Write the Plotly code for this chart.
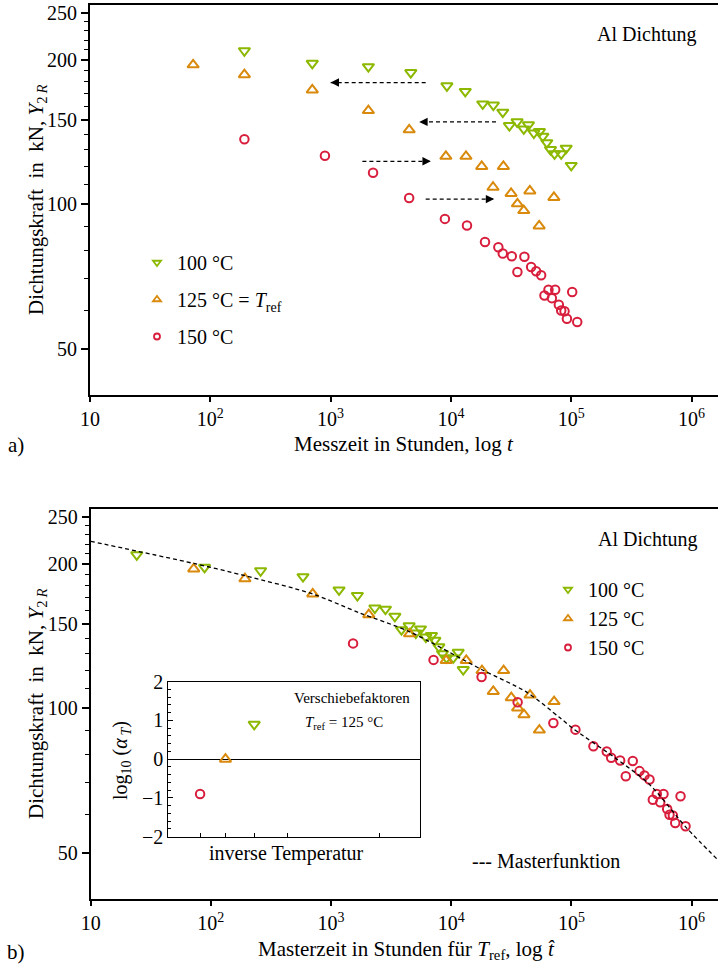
import math
import plotly.graph_objects as go

# ---------------- data ----------------
temps_C = [100, 125, 150]
log_aT = [0.9, 0.0, -0.9]              # Verschiebefaktoren log10(a_T)
labels_top = ["100 °C", "125 °C = <i>T</i><sub>ref</sub>", "150 °C"]
labels_bot = ["100 °C", "125 °C", "150 °C"]

# measured time (h) and sealing force (kN)
t_100 = [192, 704, 2060, 4640, 9260, 13160, 18380, 22530, 26980, 30620, 35480,
         40330, 44080, 48880, 54420, 58060, 62680, 67260, 72630, 82540, 90800, 100000]
y_100 = [209, 196.8, 193.6, 188.2, 176.6, 171.9, 161.9, 161.0, 155.6, 145.9, 148.6,
         143.6, 146.4, 140.8, 141.8, 138.6, 134.4, 130.0, 127.4, 127.4, 130.9, 120.5]

t_125 = [72, 192, 704, 2060, 4500, 9080, 13340, 18030, 22390, 27300, 31620,
         35700, 40320, 45290, 54130, 71770]
y_125 = [195.3, 186.3, 173.2, 156.8, 143.0, 125.9, 125.9, 119.9, 108.5, 119.9, 105.3,
         100.2, 97.0, 106.6, 90.1, 103.3]

t_150 = [192, 897, 2253, 4495, 8913, 13600, 19200, 24790, 26980, 32050, 35700,
         40820, 46420, 51060, 56230, 59940, 64700, 69040, 73550, 78900, 82540,
         87990, 92070, 101900, 112200]
y_150 = [136.6, 126.2, 116.3, 103.0, 93.2, 90.3, 83.4, 81.3, 78.9, 77.9, 72.2,
         77.7, 74.0, 72.5, 71.1, 64.5, 66.3, 63.7, 66.3, 61.7, 60.0,
         59.8, 57.7, 65.6, 56.8]

# Masterfunktion
master_t = [10, 72, 193, 692, 1740, 4470, 17900, 42700, 79400, 105000, 224000,
            447000, 912000, 1660000]
master_y = [223, 200.5, 189, 173.4, 158, 144.6, 120.5, 108, 95.8, 90.5, 79.3,
            69.4, 56.3, 48.3]

# illustrative shift arrows in panel a)
arrow_start_t = [6170, 23700, 1837, 6170]
arrow_end_t = [1000, 5450, 6810, 22900]
arrow_y = [179.4, 148.5, 122.9, 102.5]

# inset x tick temperatures (°C)
inset_tick_temps = [150, 125, 100, 75, 20]

x_tickvals = [10, 100, 1000, 10000, 100000, 1000000]
x_ticktext = ["10", "10<sup>2</sup>", "10<sup>3</sup>", "10<sup>4</sup>",
              "10<sup>5</sup>", "10<sup>6</sup>"]
y_tickvals = [50, 100, 150, 200, 250]
y_minorvals = [60, 70, 80, 90, 110, 120, 130, 140, 160, 170, 180, 190,
               210, 220, 230, 240]

times = [t_100, t_125, t_150]
forces = [y_100, y_125, y_150]

# ---------------- style ----------------
W, H = 718, 966
FONT = "Liberation Serif"
colors = ["#8cb800", "#d98a0c", "#d81e3c"]
symbols = ["triangle-down-open", "triangle-up-open", "circle-open"]
sizes = [10, 10, 8.5]
leg_sizes = [7, 7, 6]


def fx(px):
    return px / W


def fy(py):
    return 1 - py / H


fig = go.Figure()

for i in range(3):
    mk = dict(symbol=symbols[i], size=sizes[i], color=colors[i],
              line=dict(color=colors[i], width=2))
    # panel a)
    fig.add_trace(go.Scatter(x=times[i], y=forces[i], mode="markers", marker=mk,
                             xaxis="x", yaxis="y", showlegend=False))
    # panel b) master time
    shifted = [t / 10 ** log_aT[i] for t in times[i]]
    fig.add_trace(go.Scatter(x=shifted, y=forces[i], mode="markers", marker=mk,
                             xaxis="x2", yaxis="y2", showlegend=False))
    # inset
    fig.add_trace(go.Scatter(x=[1000.0 / (temps_C[i] + 273.15)], y=[log_aT[i]],
                             mode="markers", marker=mk, xaxis="x3", yaxis="y3",
                             showlegend=False))
    lmk = dict(symbol=symbols[i], size=leg_sizes[i], color=colors[i],
               line=dict(color=colors[i], width=1.8))
    fig.add_trace(go.Scatter(x=[None], y=[None], mode="markers", marker=lmk,
                             name=labels_top[i], legend="legend",
                             legendgroup="top%d" % i, xaxis="x", yaxis="y"))
    fig.add_trace(go.Scatter(x=[None], y=[None], mode="markers", marker=lmk,
                             name=labels_bot[i], legend="legend2",
                             xaxis="x2", yaxis="y2"))

# master curve
fig.add_trace(go.Scatter(x=master_t, y=master_y, mode="lines",
                         line=dict(color="black", width=1.3, dash="4px,3px",
                                   shape="spline", smoothing=0.8),
                         xaxis="x2", yaxis="y2", showlegend=False))

# dashed arrow shafts
ax_x, ax_y = [], []
for s, e, yv in zip(arrow_start_t, arrow_end_t, arrow_y):
    ax_x += [s, e, None]
    ax_y += [yv, yv, None]
fig.add_trace(go.Scatter(x=ax_x, y=ax_y, mode="lines",
                         line=dict(color="black", width=1.2, dash="4px,3px"),
                         xaxis="x", yaxis="y", showlegend=False))

annotations = []
for s, e, yv in zip(arrow_start_t, arrow_end_t, arrow_y):
    direction = 1 if e < s else -1
    annotations.append(dict(x=math.log10(e), y=math.log10(yv), xref="x", yref="y",
                            ax=direction * 9, ay=0, text="", showarrow=True,
                            arrowhead=2, arrowsize=1.4, arrowwidth=1.2,
                            arrowcolor="black", standoff=0))


def txt(text, px, py, size=20, angle=0, xanchor="center"):
    annotations.append(dict(text=text, x=fx(px), y=fy(py), xref="paper", yref="paper",
                            showarrow=False, xanchor=xanchor, yanchor="middle",
                            textangle=angle,
                            font=dict(family=FONT, size=size, color="black")))


ytitle = "Dichtungskraft\u00a0 in\u00a0 kN, <i>Y</i><sub>2\u2009<i>R</i></sub>"
txt("Al Dichtung", 646, 34)
txt("Al Dichtung", 647, 539)
txt(ytitle, 37, 200, 21, -90)
txt(ytitle, 37, 704, 21, -90)
txt("Messzeit in Stunden, log <i>t</i>", 404, 444, 21)
txt("Masterzeit in Stunden für <i>T</i><sub>ref</sub>, log <i>t\u0302</i>", 406, 950, 21)
txt("a)", 16, 445, 21)
txt("b)", 16, 952, 21)
txt("Verschiebefaktoren", 352, 698, 15)
txt("<i>T</i><sub>ref</sub> = 125 °C", 344, 723, 15)
txt("inverse Temperatur", 286, 853, 20)
txt("log<sub>10</sub> (<i>α</i><sub>\u2009<i>T</i></sub>)", 121, 761, 20, -90)
txt("--- Masterfunktion", 546, 861, 20)

tickfont = dict(family=FONT, size=20, color="black")


def main_x(domain_left, anchor):
    return dict(type="log", range=[1, 6.22], domain=[fx(domain_left), 1], anchor=anchor,
                showline=True, linecolor="black", linewidth=2, mirror=True,
                ticks="outside", ticklen=5, tickwidth=1.5, tickcolor="black",
                tickvals=x_tickvals, ticktext=x_ticktext, tickfont=tickfont,
                showgrid=False, zeroline=False, automargin=False)


def main_y(top_px, bottom_px, anchor):
    return dict(type="log", range=[math.log10(40), 2.4156],
                domain=[fy(bottom_px), fy(top_px)], anchor=anchor,
                showline=True, linecolor="black", linewidth=2, mirror=False,
                ticks="outside", ticklen=7, tickwidth=1.5, tickcolor="black",
                tickvals=y_tickvals, ticktext=[str(v) for v in y_tickvals],
                tickfont=tickfont,
                minor=dict(tickmode="array", tickvals=y_minorvals, ticks="outside",
                           ticklen=4, tickwidth=1, tickcolor="black", showgrid=False),
                showgrid=False, zeroline=False, automargin=False)


inset_xt = [1000.0 / (T + 273.15) for T in inset_tick_temps]

fig.update_layout(
    width=W, height=H,
    margin=dict(l=0, r=0, t=0, b=0),
    paper_bgcolor="white", plot_bgcolor="white",
    font=dict(family=FONT, size=20, color="black"),
    xaxis=main_x(90, "y"),
    yaxis=main_y(5, 395, "x"),
    xaxis2=main_x(90.7, "y2"),
    yaxis2=main_y(509, 899.3, "x2"),
    xaxis3=dict(range=[2.1773, 3.6494], domain=[fx(168.3), fx(420)], anchor="y3",
                showline=True, linecolor="black", linewidth=1, mirror=True,
                ticks="inside", ticklen=4, tickwidth=1, tickcolor="black",
                tickvals=inset_xt, showticklabels=False,
                showgrid=False, zeroline=False, automargin=False),
    yaxis3=dict(range=[-2, 2], domain=[fy(836.7), fy(681.7)], anchor="x3",
                showline=True, linecolor="black", linewidth=1, mirror=True,
                ticks="inside", ticklen=5, tickwidth=1, tickcolor="black",
                tickvals=[-2, -1, 0, 1, 2],
                ticktext=["\u22122", "\u22121", "0", "1", "2"], tickfont=tickfont,
                minor=dict(tickmode="array",
                           tickvals=[-1.8, -1.6, -1.4, -1.2, -0.8, -0.6, -0.4, -0.2,
                                     0.2, 0.4, 0.6, 0.8, 1.2, 1.4, 1.6, 1.8],
                           ticks="inside", ticklen=2.5, tickwidth=1,
                           tickcolor="black", showgrid=False),
                showgrid=False, zeroline=True, zerolinecolor="black", zerolinewidth=1,
                automargin=False),
    legend=dict(x=fx(137), y=fy(243), xanchor="left", yanchor="top",
                bgcolor="rgba(0,0,0,0)", font=dict(family=FONT, size=20, color="black"),
                tracegroupgap=8, itemwidth=30, traceorder="grouped"),
    legend2=dict(x=fx(548), y=fy(570), xanchor="left", yanchor="top",
                 bgcolor="rgba(0,0,0,0)", font=dict(family=FONT, size=20, color="black"),
                 itemwidth=30, traceorder="normal"),
    annotations=annotations,
    showlegend=True,
)

# the page body's default 8px margin would shift the figure; remove it
fig.write_html("out.html",
               config={"displayModeBar": False},
               post_script="document.body.style.margin='0';"
                           "document.body.style.overflow='hidden';")
